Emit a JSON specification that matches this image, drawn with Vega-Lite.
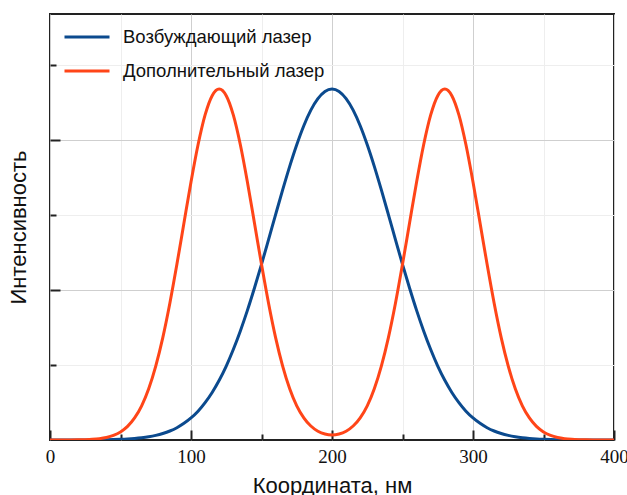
{
  "$schema": "https://vega.github.io/schema/vega-lite/v6.json",
  "width": 564,
  "height": 426,
  "autosize": {"type": "none"},
  "padding": {"left": 50, "top": 14, "right": 13, "bottom": 55},
  "background": "white",
  "config": {
    "view": {"stroke": "#222", "strokeWidth": 2},
    "font": "Liberation Sans"
  },
  "data": {
    "values": [
      {"x":0,"y":0,"s":"Возбуждающий лазер"},{"x":5,"y":0.0001,"s":"Возбуждающий лазер"},{"x":10,"y":0.0001,"s":"Возбуждающий лазер"},{"x":15,"y":0.0002,"s":"Возбуждающий лазер"},{"x":20,"y":0.0003,"s":"Возбуждающий лазер"},{"x":25,"y":0.0005,"s":"Возбуждающий лазер"},{"x":30,"y":0.0008,"s":"Возбуждающий лазер"},{"x":35,"y":0.0013,"s":"Возбуждающий лазер"},{"x":40,"y":0.002,"s":"Возбуждающий лазер"},{"x":45,"y":0.003,"s":"Возбуждающий лазер"},{"x":50,"y":0.0046,"s":"Возбуждающий лазер"},{"x":55,"y":0.0069,"s":"Возбуждающий лазер"},{"x":60,"y":0.0103,"s":"Возбуждающий лазер"},{"x":65,"y":0.0151,"s":"Возбуждающий лазер"},{"x":70,"y":0.0217,"s":"Возбуждающий лазер"},{"x":75,"y":0.031,"s":"Возбуждающий лазер"},{"x":80,"y":0.0435,"s":"Возбуждающий лазер"},{"x":85,"y":0.06,"s":"Возбуждающий лазер"},{"x":90,"y":0.082,"s":"Возбуждающий лазер"},{"x":95,"y":0.111,"s":"Возбуждающий лазер"},{"x":100,"y":0.147,"s":"Возбуждающий лазер"},{"x":105,"y":0.192,"s":"Возбуждающий лазер"},{"x":110,"y":0.249,"s":"Возбуждающий лазер"},{"x":115,"y":0.317,"s":"Возбуждающий лазер"},{"x":120,"y":0.398,"s":"Возбуждающий лазер"},{"x":125,"y":0.493,"s":"Возбуждающий лазер"},{"x":130,"y":0.603,"s":"Возбуждающий лазер"},{"x":135,"y":0.727,"s":"Возбуждающий лазер"},{"x":140,"y":0.864,"s":"Возбуждающий лазер"},{"x":145,"y":1.013,"s":"Возбуждающий лазер"},{"x":150,"y":1.171,"s":"Возбуждающий лазер"},{"x":155,"y":1.336,"s":"Возбуждающий лазер"},{"x":160,"y":1.503,"s":"Возбуждающий лазер"},{"x":165,"y":1.667,"s":"Возбуждающий лазер"},{"x":170,"y":1.824,"s":"Возбуждающий лазер"},{"x":175,"y":1.968,"s":"Возбуждающий лазер"},{"x":180,"y":2.095,"s":"Возбуждающий лазер"},{"x":185,"y":2.199,"s":"Возбуждающий лазер"},{"x":190,"y":2.276,"s":"Возбуждающий лазер"},{"x":195,"y":2.324,"s":"Возбуждающий лазер"},{"x":200,"y":2.34,"s":"Возбуждающий лазер"},{"x":205,"y":2.324,"s":"Возбуждающий лазер"},{"x":210,"y":2.276,"s":"Возбуждающий лазер"},{"x":215,"y":2.199,"s":"Возбуждающий лазер"},{"x":220,"y":2.095,"s":"Возбуждающий лазер"},{"x":225,"y":1.968,"s":"Возбуждающий лазер"},{"x":230,"y":1.824,"s":"Возбуждающий лазер"},{"x":235,"y":1.667,"s":"Возбуждающий лазер"},{"x":240,"y":1.503,"s":"Возбуждающий лазер"},{"x":245,"y":1.336,"s":"Возбуждающий лазер"},{"x":250,"y":1.171,"s":"Возбуждающий лазер"},{"x":255,"y":1.013,"s":"Возбуждающий лазер"},{"x":260,"y":0.864,"s":"Возбуждающий лазер"},{"x":265,"y":0.727,"s":"Возбуждающий лазер"},{"x":270,"y":0.603,"s":"Возбуждающий лазер"},{"x":275,"y":0.493,"s":"Возбуждающий лазер"},{"x":280,"y":0.398,"s":"Возбуждающий лазер"},{"x":285,"y":0.317,"s":"Возбуждающий лазер"},{"x":290,"y":0.249,"s":"Возбуждающий лазер"},{"x":295,"y":0.192,"s":"Возбуждающий лазер"},{"x":300,"y":0.147,"s":"Возбуждающий лазер"},{"x":305,"y":0.111,"s":"Возбуждающий лазер"},{"x":310,"y":0.082,"s":"Возбуждающий лазер"},{"x":315,"y":0.06,"s":"Возбуждающий лазер"},{"x":320,"y":0.0435,"s":"Возбуждающий лазер"},{"x":325,"y":0.031,"s":"Возбуждающий лазер"},{"x":330,"y":0.0217,"s":"Возбуждающий лазер"},{"x":335,"y":0.0151,"s":"Возбуждающий лазер"},{"x":340,"y":0.0103,"s":"Возбуждающий лазер"},{"x":345,"y":0.0069,"s":"Возбуждающий лазер"},{"x":350,"y":0.0046,"s":"Возбуждающий лазер"},{"x":355,"y":0.003,"s":"Возбуждающий лазер"},{"x":360,"y":0.002,"s":"Возбуждающий лазер"},{"x":365,"y":0.0013,"s":"Возбуждающий лазер"},{"x":370,"y":0.0008,"s":"Возбуждающий лазер"},{"x":375,"y":0.0005,"s":"Возбуждающий лазер"},{"x":380,"y":0.0003,"s":"Возбуждающий лазер"},{"x":385,"y":0.0002,"s":"Возбуждающий лазер"},{"x":390,"y":0.0001,"s":"Возбуждающий лазер"},{"x":395,"y":0.0001,"s":"Возбуждающий лазер"},{"x":400,"y":0,"s":"Возбуждающий лазер"},
      {"x":0,"y":0,"s":"Дополнительный лазер"},{"x":5,"y":0.0001,"s":"Дополнительный лазер"},{"x":10,"y":0.0002,"s":"Дополнительный лазер"},{"x":15,"y":0.0005,"s":"Дополнительный лазер"},{"x":20,"y":0.0011,"s":"Дополнительный лазер"},{"x":25,"y":0.0023,"s":"Дополнительный лазер"},{"x":30,"y":0.0046,"s":"Дополнительный лазер"},{"x":35,"y":0.009,"s":"Дополнительный лазер"},{"x":40,"y":0.017,"s":"Дополнительный лазер"},{"x":45,"y":0.0309,"s":"Дополнительный лазер"},{"x":50,"y":0.054,"s":"Дополнительный лазер"},{"x":55,"y":0.0908,"s":"Дополнительный лазер"},{"x":60,"y":0.147,"s":"Дополнительный лазер"},{"x":65,"y":0.228,"s":"Дополнительный лазер"},{"x":70,"y":0.342,"s":"Дополнительный лазер"},{"x":75,"y":0.493,"s":"Дополнительный лазер"},{"x":80,"y":0.683,"s":"Дополнительный лазер"},{"x":85,"y":0.912,"s":"Дополнительный лазер"},{"x":90,"y":1.171,"s":"Дополнительный лазер"},{"x":95,"y":1.447,"s":"Дополнительный лазер"},{"x":100,"y":1.72,"s":"Дополнительный лазер"},{"x":105,"y":1.968,"s":"Дополнительный лазер"},{"x":110,"y":2.167,"s":"Дополнительный лазер"},{"x":115,"y":2.2955,"s":"Дополнительный лазер"},{"x":120,"y":2.34,"s":"Дополнительный лазер"},{"x":125,"y":2.2955,"s":"Дополнительный лазер"},{"x":130,"y":2.167,"s":"Дополнительный лазер"},{"x":135,"y":1.968,"s":"Дополнительный лазер"},{"x":140,"y":1.72,"s":"Дополнительный лазер"},{"x":145,"y":1.447,"s":"Дополнительный лазер"},{"x":150,"y":1.171,"s":"Дополнительный лазер"},{"x":155,"y":0.912,"s":"Дополнительный лазер"},{"x":160,"y":0.683,"s":"Дополнительный лазер"},{"x":165,"y":0.493,"s":"Дополнительный лазер"},{"x":170,"y":0.342,"s":"Дополнительный лазер"},{"x":175,"y":0.228,"s":"Дополнительный лазер"},{"x":180,"y":0.148,"s":"Дополнительный лазер"},{"x":185,"y":0.0931,"s":"Дополнительный лазер"},{"x":190,"y":0.0586,"s":"Дополнительный лазер"},{"x":195,"y":0.0399,"s":"Дополнительный лазер"},{"x":200,"y":0.034,"s":"Дополнительный лазер"},{"x":205,"y":0.0399,"s":"Дополнительный лазер"},{"x":210,"y":0.0586,"s":"Дополнительный лазер"},{"x":215,"y":0.0931,"s":"Дополнительный лазер"},{"x":220,"y":0.148,"s":"Дополнительный лазер"},{"x":225,"y":0.228,"s":"Дополнительный лазер"},{"x":230,"y":0.342,"s":"Дополнительный лазер"},{"x":235,"y":0.493,"s":"Дополнительный лазер"},{"x":240,"y":0.683,"s":"Дополнительный лазер"},{"x":245,"y":0.912,"s":"Дополнительный лазер"},{"x":250,"y":1.171,"s":"Дополнительный лазер"},{"x":255,"y":1.447,"s":"Дополнительный лазер"},{"x":260,"y":1.72,"s":"Дополнительный лазер"},{"x":265,"y":1.968,"s":"Дополнительный лазер"},{"x":270,"y":2.167,"s":"Дополнительный лазер"},{"x":275,"y":2.2955,"s":"Дополнительный лазер"},{"x":280,"y":2.34,"s":"Дополнительный лазер"},{"x":285,"y":2.2955,"s":"Дополнительный лазер"},{"x":290,"y":2.167,"s":"Дополнительный лазер"},{"x":295,"y":1.968,"s":"Дополнительный лазер"},{"x":300,"y":1.72,"s":"Дополнительный лазер"},{"x":305,"y":1.447,"s":"Дополнительный лазер"},{"x":310,"y":1.171,"s":"Дополнительный лазер"},{"x":315,"y":0.912,"s":"Дополнительный лазер"},{"x":320,"y":0.683,"s":"Дополнительный лазер"},{"x":325,"y":0.493,"s":"Дополнительный лазер"},{"x":330,"y":0.342,"s":"Дополнительный лазер"},{"x":335,"y":0.228,"s":"Дополнительный лазер"},{"x":340,"y":0.147,"s":"Дополнительный лазер"},{"x":345,"y":0.0908,"s":"Дополнительный лазер"},{"x":350,"y":0.054,"s":"Дополнительный лазер"},{"x":355,"y":0.0309,"s":"Дополнительный лазер"},{"x":360,"y":0.017,"s":"Дополнительный лазер"},{"x":365,"y":0.009,"s":"Дополнительный лазер"},{"x":370,"y":0.0046,"s":"Дополнительный лазер"},{"x":375,"y":0.0023,"s":"Дополнительный лазер"},{"x":380,"y":0.0011,"s":"Дополнительный лазер"},{"x":385,"y":0.0005,"s":"Дополнительный лазер"},{"x":390,"y":0.0002,"s":"Дополнительный лазер"},{"x":395,"y":0.0001,"s":"Дополнительный лазер"},{"x":400,"y":0,"s":"Дополнительный лазер"}
    ]
  },
  "mark": {"type": "line", "strokeWidth": 3, "interpolate": "monotone", "clip": true},
  "encoding": {
    "x": {
      "field": "x", "type": "quantitative",
      "scale": {"domain": [0, 400], "nice": false, "zero": false},
      "axis": {
        "title": "Координата, нм",
        "titleFont": "Liberation Sans", "titleFontSize": 22, "titleFontWeight": "normal", "titleColor": "#111",
        "titlePadding": 9,
        "values": [0, 50, 100, 150, 200, 250, 300, 350, 400],
        "labelExpr": "datum.value % 100 === 0 ? datum.label : ''",
        "labelFont": "Liberation Serif", "labelFontSize": 19, "labelColor": "#111",
        "labelPadding": 17,
        "labelFlush": false,
        "domain": false,
        "tickColor": "#222",
        "tickWidth": 2,
        "tickSize": {"condition": {"test": "datum.value % 100 === 0", "value": -10}, "value": -6},
        "grid": true,
        "gridColor": {"condition": {"test": "datum.value % 100 === 0", "value": "#cfcfcf"}, "value": "#eeeeee"},
        "gridWidth": 1
      }
    },
    "y": {
      "field": "y", "type": "quantitative",
      "scale": {"domain": [0, 2.84], "nice": false},
      "axis": {
        "title": "Интенсивность",
        "titleFont": "Liberation Sans", "titleFontSize": 22, "titleFontWeight": "normal", "titleColor": "#111",
        "titlePadding": 19,
        "values": [0.5, 1, 1.5, 2, 2.5],
        "labels": false,
        "domain": false,
        "tickColor": "#222",
        "tickWidth": 2,
        "tickSize": {"condition": {"test": "datum.value % 1 === 0", "value": -10}, "value": -6},
        "grid": true,
        "gridColor": {"condition": {"test": "datum.value % 1 === 0", "value": "#cfcfcf"}, "value": "#eeeeee"},
        "gridWidth": 1
      }
    },
    "color": {
      "field": "s", "type": "nominal",
      "scale": {"domain": ["Возбуждающий лазер", "Дополнительный лазер"], "range": ["#0b4a8e", "#ff4518"]},
      "legend": {
        "title": null,
        "orient": "none",
        "legendX": 13,
        "legendY": -1,
        "symbolType": "stroke",
        "symbolSize": 2025,
        "symbolStrokeWidth": 3,
        "labelFont": "Liberation Sans",
        "labelFontSize": 18.5,
        "labelColor": "#111",
        "labelOffset": 12,
        "rowPadding": -8,
        "labelLimit": 400
      }
    }
  }
}
